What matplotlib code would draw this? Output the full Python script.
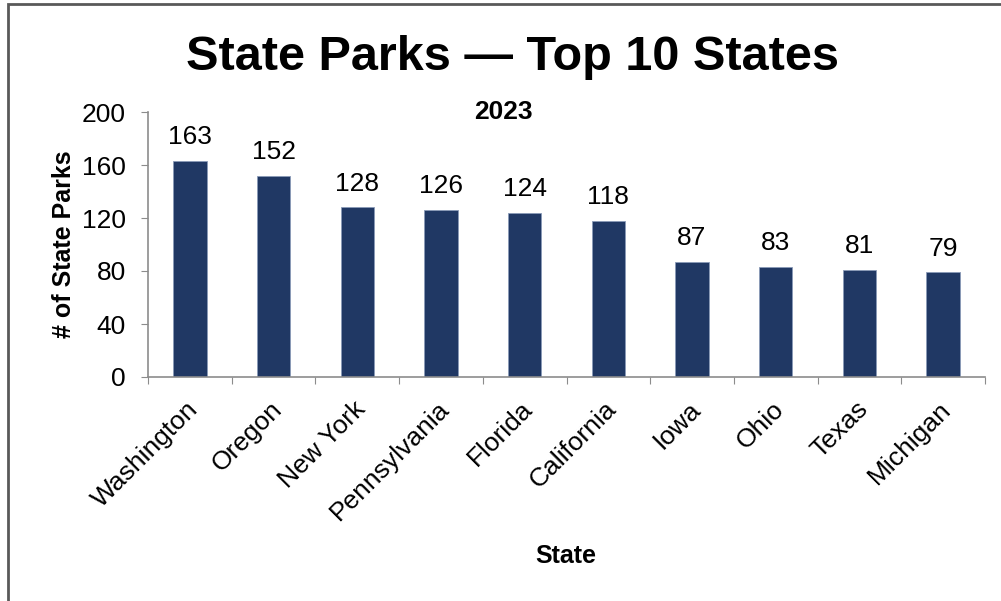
import matplotlib.pyplot as plt
import matplotlib.transforms as mtransforms
from matplotlib.patches import Rectangle

states = ["Washington", "Oregon", "New York", "Pennsylvania", "Florida",
          "California", "Iowa", "Ohio", "Texas", "Michigan"]
parks = [163, 152, 128, 126, 124, 118, 87, 83, 81, 79]
y_ticks = [0, 40, 80, 120, 160, 200]

plt.rcParams['font.family'] = ['Liberation Sans', 'DejaVu Sans']

fig = plt.figure(figsize=(10.01, 6.01), dpi=100)
ax = fig.add_axes([148 / 1001, 1 - 377 / 601, (985 - 148) / 1001, (377 - 112) / 601])

x = range(len(states))
ax.bar(x, parks, width=0.4, color='#203864', edgecolor='#8a9ab8', linewidth=0.6)

# value labels
for i, v in enumerate(parks):
    ax.annotate(str(v), (i, v), xytext=(0, 12), textcoords='offset points',
                ha='center', va='baseline', fontsize=19)

ax.set_xlim(-0.5, len(states) - 0.5)
ax.set_ylim(0, 200)
ax.set_yticks(y_ticks)
ax.set_xticks([i - 0.5 for i in range(len(states) + 1)], minor=False)
ax.set_xticklabels([])
ax.set_xticks(list(x), minor=True)
ax.set_xticklabels(states, minor=True, rotation=45, ha='right',
                   rotation_mode='anchor', fontsize=19)
ax.tick_params(axis='x', which='minor', length=0, pad=10)
ax.tick_params(axis='x', which='major', length=5, color='#8c8c8c', direction='out')
ax.tick_params(axis='y', length=5, color='#8c8c8c', labelsize=19, pad=11)

# nudge rotated labels a little down-left
shift = mtransforms.ScaledTranslation(-4 / 100, -6 / 100, fig.dpi_scale_trans)
for lab in ax.get_xticklabels(minor=True):
    lab.set_transform(lab.get_transform() + shift)

for side in ['top', 'right']:
    ax.spines[side].set_visible(False)
for side in ['left', 'bottom']:
    ax.spines[side].set_color('#8c8c8c')
    ax.spines[side].set_linewidth(1.2)

ax.set_ylabel("# of State Parks", fontsize=18, fontweight='bold')
ax.set_xlabel("State", fontsize=18, fontweight='bold')
ax.xaxis.set_label_coords((566 - 148) / (985 - 148), -(556 - 377) / (377 - 112))
ax.xaxis.label.set_va('center')
ax.yaxis.set_label_coords(-(148 - 64) / (985 - 148), 0.5)
ax.yaxis.label.set_va('center')

ax.text((503 - 148) / (985 - 148), 1.0, "2023", transform=ax.transAxes,
        ha='center', va='center', fontsize=19, fontweight='bold')
fig.text(512 / 1001, 1 - 70 / 601, "State Parks \u2014 Top 10 States",
         ha='center', va='baseline', fontsize=35, fontweight='bold')

# outer frame, cut off at right and bottom
fig.patches.append(Rectangle((8 / 1001, -0.1), 1.2, 1.1 - 3 / 601 - 0.001,
                             transform=fig.transFigure, fill=False,
                             edgecolor='#595959', linewidth=2, clip_on=False))

fig.savefig("out.png", dpi=100)
